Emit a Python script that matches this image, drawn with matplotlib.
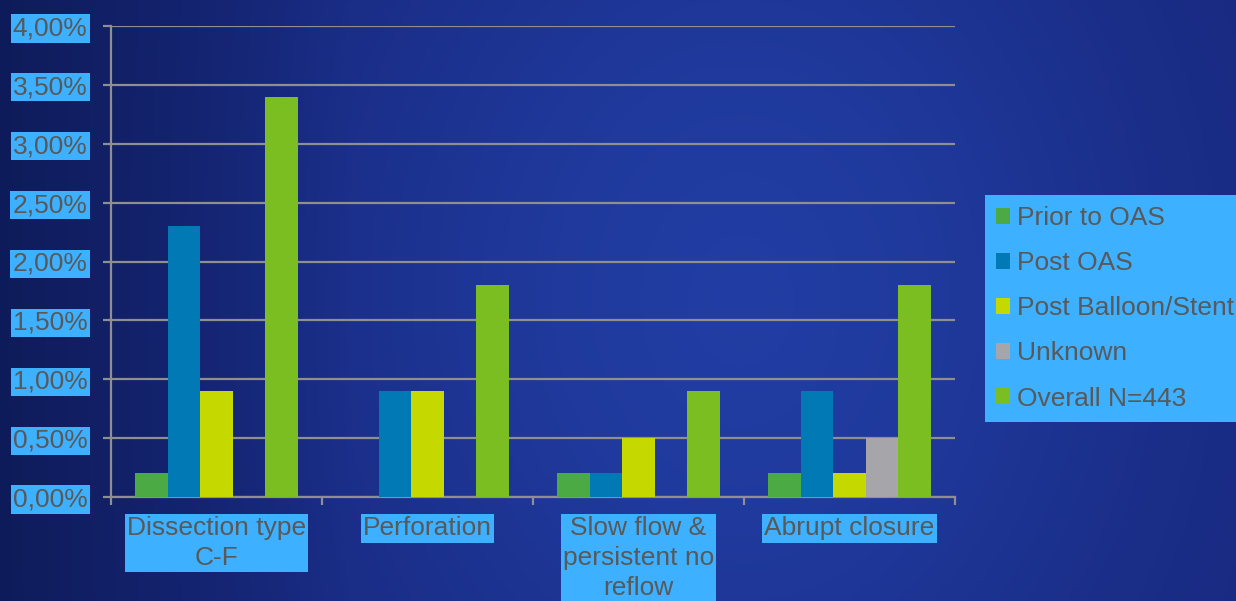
import numpy as np
import matplotlib
matplotlib.use("Agg")
import matplotlib.pyplot as plt
from matplotlib.patches import Patch
from matplotlib.ticker import MultipleLocator, FuncFormatter

plt.rcParams['font.family'] = ['Liberation Sans', 'DejaVu Sans']

categories = ['Dissection type\nC-F', 'Perforation', 'Slow flow &\npersistent no\nreflow', 'Abrupt closure']
series = ['Prior to OAS', 'Post OAS', 'Post Balloon/Stent', 'Unknown', 'Overall N=443']
prior    = [0.2, 0.0, 0.2, 0.2]
post_oas = [2.3, 0.9, 0.2, 0.9]
balloon  = [0.9, 0.9, 0.5, 0.2]
unknown  = [0.0, 0.0, 0.0, 0.5]
overall  = [3.4, 1.8, 0.9, 1.8]
values = [prior, post_oas, balloon, unknown, overall]
colors = ['#4caa44', '#0079b5', '#c5d800', '#a6a6aa', '#7abe21']

TXT = '#595959'
BOX = '#3db1ff'
GRID = '#8f8f8f'
FS = 19

fig = plt.figure(figsize=(12.36, 6.01), dpi=100)

# background: blue gradient, darker at the left edge
bg = fig.add_axes([0, 0, 1, 1], zorder=-1)
xx, yy = np.meshgrid(np.linspace(0, 1, 400), np.linspace(0, 1, 200))
glow = np.exp(-((xx - 0.6) ** 2) / 0.12 - ((yy - 0.5) ** 2) / 0.8)
dark = np.clip(1 - xx * 3.5, 0, 1) * 0.55
c0 = np.array([0.09, 0.15, 0.48])
c1 = np.array([0.13, 0.24, 0.64])
c2 = np.array([0.03, 0.07, 0.25])
img = c0[None, None, :] + (c1 - c0)[None, None, :] * glow[..., None]
img = img * (1 - dark[..., None]) + c2[None, None, :] * dark[..., None]
bg.imshow(np.clip(img, 0, 1), aspect='auto', extent=[0, 1, 0, 1])
bg.axis('off')

ax = fig.add_axes([111 / 1236, 1 - 497 / 601, 844 / 1236, 471 / 601])
ax.patch.set_alpha(0)

w = 0.1536
x = np.arange(len(categories))
for j, (vals, col, name) in enumerate(zip(values, colors, series)):
    ax.bar(x + (j - 2) * w, vals, width=w, color=col, label=name, zorder=3)

ax.set_xlim(-0.5, 3.5)
ax.set_ylim(0, 4.0)
ax.yaxis.set_major_locator(MultipleLocator(0.5))
ax.yaxis.set_major_formatter(FuncFormatter(lambda v, p: f'{v:.2f}%'.replace('.', ',')))
ax.grid(axis='y', color=GRID, linewidth=1.6, zorder=0)
for s in ['top', 'right']:
    ax.spines[s].set_visible(False)
for s in ['left', 'bottom']:
    ax.spines[s].set_color(GRID)
    ax.spines[s].set_linewidth(1.6)

ax.set_xticks(np.arange(-0.5, 4.0, 1.0))
ax.set_xticklabels([])
ax.tick_params(axis='x', length=6, width=1.6, color=GRID, direction='out')
ax.tick_params(axis='y', length=6, width=1.6, color=GRID, direction='out', pad=11,
               labelsize=FS, labelcolor=TXT)
for lab in ax.get_yticklabels():
    lab.set_bbox(dict(facecolor=BOX, edgecolor='none', pad=1.5))

for i, cat in enumerate(categories):
    ax.annotate(cat, xy=(i, 0), xytext=(0, -14), textcoords='offset points',
                ha='center', va='top', fontsize=FS, color=TXT, linespacing=1.3,
                bbox=dict(facecolor=BOX, edgecolor='none', pad=1.5), annotation_clip=False)

handles = [Patch(facecolor=c, edgecolor='none') for c in colors]
leg = fig.legend(handles, series, loc='upper left', bbox_to_anchor=(985 / 1236, 1 - 195 / 601),
                 frameon=True, fancybox=False, facecolor=BOX, edgecolor='none', framealpha=1,
                 fontsize=FS, labelcolor=TXT, handlelength=0.53, handleheight=0.53,
                 handletextpad=0.27, labelspacing=0.8, borderpad=0.42, borderaxespad=0)

fig.savefig('out.png', dpi=100)
